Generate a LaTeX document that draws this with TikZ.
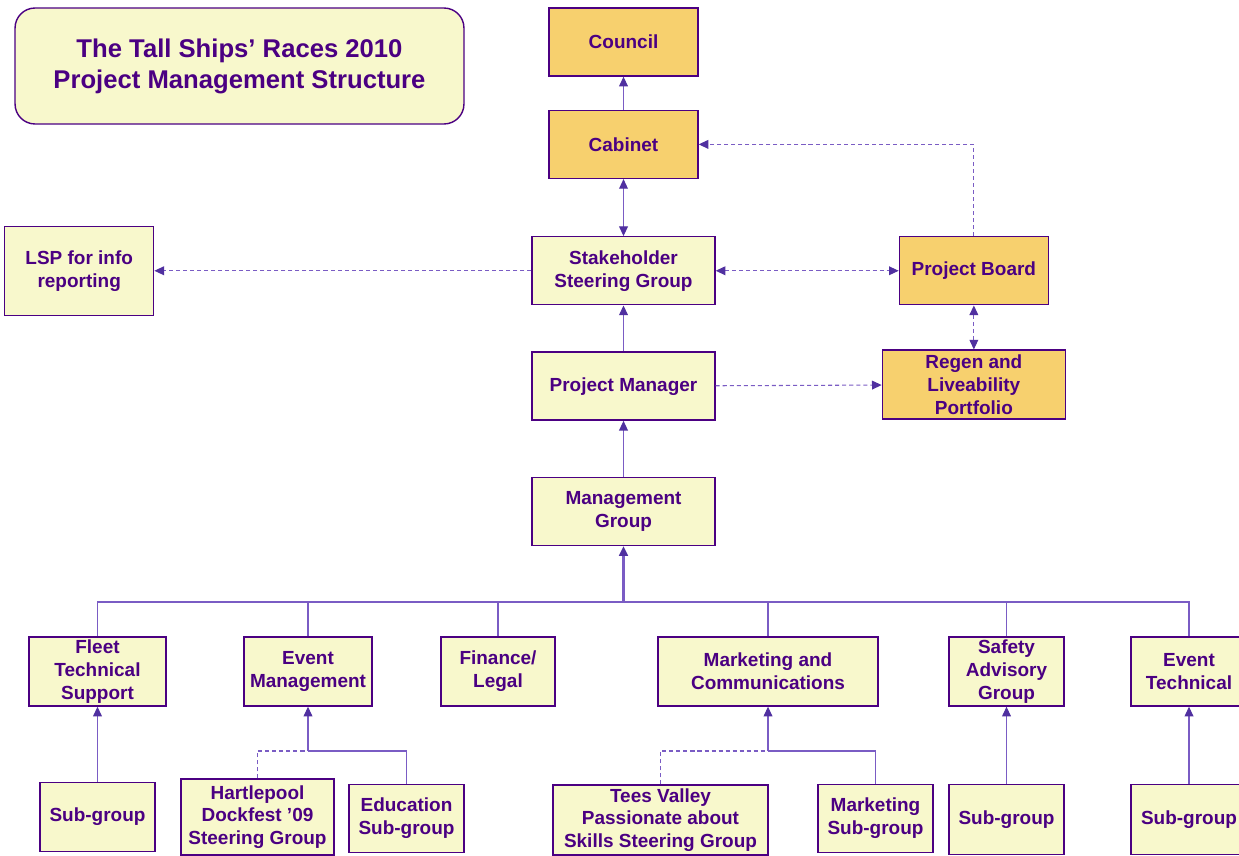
\documentclass[tikz,border=0pt]{standalone}
\usepackage{fontspec}
\setmainfont{Liberation Sans}
\usetikzlibrary
  {
    arrows.meta,  % triangle tips
    positioning,  % place nodes relative to other nodes
  }

\definecolor{inkpurple}{RGB}{75,0,130}
\definecolor{linepurple}{RGB}{122,92,196}
\definecolor{tippurple}{RGB}{80,48,160}
\definecolor{paleyellow}{RGB}{248,248,204}
\definecolor{gold}{RGB}{247,208,110}

\begin{document}
\begin{tikzpicture}
    [
      x=0.02cm, y=-0.02cm,
      box/.style=
        {
          rectangle,
          draw=inkpurple,
          fill=paleyellow,
          line width=0.8pt,
          text=inkpurple,
          font=\bfseries\fontsize{10.8}{13}\selectfont,
          align=center,
          inner sep=1pt,
          minimum height=1.36cm,
        },
      senior/.style={box, fill=gold},
      link/.style={draw=linepurple, line width=0.6pt},
      dashlink/.style={link, dash pattern=on 2.3pt off 1.7pt},
      toarrow/.style={-{Triangle[length=5.5pt, width=5pt, color=tippurple]}},
      botharrow/.style=
        {
          {Triangle[length=5.5pt, width=5pt, color=tippurple]}-{Triangle[length=5.5pt, width=5pt, color=tippurple]}
        },
    ]
    \clip (0,0) rectangle (1239,855);
    \fill[white] (0,0) rectangle (1239,855);

    \node[box, rounded corners=0.4cm, minimum width=8.98cm, minimum height=2.32cm,
          font=\bfseries\fontsize{14.6}{17.6}\selectfont]
                          (title)       at (239.5,66)              {The Tall Ships’ Races 2010\\Project Management Structure};

    % top of the chain
    \node[senior, minimum width=2.98cm] (council)                    at (623.5,42)    {Council};
    \node[senior, minimum width=2.98cm] (cabinet)     [below=0.66cm of council]     {Cabinet};
    \node[box, minimum width=3.66cm]    (stakeholder) [below=1.14cm of cabinet]     {Stakeholder\\Steering Group};
    \node[box, minimum width=2.98cm, minimum height=1.78cm]
                                        (lsp)         [left=7.54cm of stakeholder]  {LSP for info\\reporting};
    \node[senior, minimum width=2.98cm] (board)       [right=3.66cm of stakeholder] {Project Board};
    \node[box, minimum width=3.66cm]    (manager)     [below=0.92cm of stakeholder] {Project Manager};
    \node[senior, minimum width=3.66cm, minimum height=1.38cm]
                                        (regen)       [below=0.88cm of board]       {Regen and\\Liveability\\Portfolio};
    \node[box, minimum width=3.66cm]    (mgmt)        [below=1.12cm of manager]     {Management\\Group};

    % work streams
    \node[box, minimum width=2.74cm, minimum height=1.38cm] (fleet)     at (97.5,671.5)   {Fleet\\Technical\\Support};
    \node[box, minimum width=2.56cm, minimum height=1.38cm] (event)     at (308,671.5)    {Event\\Management};
    \node[box, minimum width=2.28cm, minimum height=1.38cm] (finance)   at (498,671.5)    {Finance/\\Legal};
    \node[box, minimum width=4.4cm, minimum height=1.38cm]  (marketing) at (768,671.5)    {Marketing and\\Communications};
    \node[box, minimum width=2.3cm, minimum height=1.38cm]  (safety)    at (1006.5,671.5) {Safety\\Advisory\\Group};
    \node[box, minimum width=2.32cm, minimum height=1.38cm] (evtech)    at (1189,671.5)   {Event\\Technical};

    % sub-groups
    \node[box, minimum width=2.3cm, minimum height=1.38cm]  (fleetsub)  [below=1.5cm of fleet]    {Sub-group};
    \node[box, minimum width=3.06cm, minimum height=1.52cm] (dockfest)  at (257.5,817)            {Hartlepool\\Dockfest ’09\\Steering Group};
    \node[box, minimum width=2.3cm]                         (education) at (406.5,818.5)          {Education\\Sub-group};
    \node[box, minimum width=4.3cm, minimum height=1.4cm]   (skills)    at (660.5,820)            {Tees Valley\\Passionate about\\Skills Steering Group};
    \node[box, minimum width=2.3cm]                         (mktsub)    at (875.5,818.5)          {Marketing\\Sub-group};
    \node[box, minimum width=2.3cm, minimum height=1.4cm]   (safetysub) [below=1.54cm of safety]  {Sub-group};
    \node[box, minimum width=2.32cm, minimum height=1.4cm]  (techsub)   [below=1.54cm of evtech]  {Sub-group};

    \coordinate (bus)       at (623.5,602);
    \coordinate (eventjoin) at (308,751);
    \coordinate (mktjoin)   at (768,751);

    \draw[link, toarrow]         (cabinet) -- (council);
    \draw[link, botharrow]       (cabinet) -- (stakeholder);
    \draw[link, toarrow]         (manager) -- (stakeholder);
    \draw[link, toarrow]         (mgmt) -- (manager);
    \draw[dashlink, toarrow]     (stakeholder) -- (lsp);
    \draw[dashlink, botharrow]   (stakeholder) -- (board);
    \draw[dashlink, toarrow]     (board.north) |- (cabinet.east);
    \draw[dashlink, botharrow]   (board) -- (regen);
    \draw[dashlink, toarrow]     (manager) -- (regen);

    \draw[link, line width=1.2pt, toarrow] (bus) -- (mgmt);
    \foreach \unit in {fleet,event,finance,marketing,safety,evtech}
      \draw[link] (\unit.north) |- (bus);
    \foreach \sub/\unit in {fleetsub/fleet,safetysub/safety,techsub/evtech}
      \draw[link, toarrow] (\sub) -- (\unit);

    \draw[dashlink]      (dockfest.north) |- (eventjoin);
    \draw[link]          (education.north) |- (eventjoin);
    \draw[link, toarrow] (eventjoin) -- (event);
    \draw[dashlink]      (skills.north) |- (mktjoin);
    \draw[link]          (mktsub.north) |- (mktjoin);
    \draw[link, toarrow] (mktjoin) -- (marketing);
  \end{tikzpicture}
\end{document}
